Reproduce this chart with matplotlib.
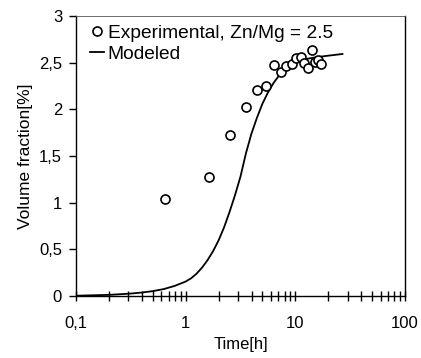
import matplotlib
matplotlib.use("Agg")
import matplotlib.pyplot as plt
from matplotlib.ticker import FixedLocator, LogLocator, NullFormatter, FixedFormatter

plt.rcParams['font.family'] = ['Liberation Sans', 'DejaVu Sans']

exp_time = [0.647, 1.63, 2.56, 3.54, 4.46, 5.42, 6.41, 7.38, 8.24, 9.35,
            10.2, 11.3, 12.0, 13.1, 14.1, 15.0, 16.1, 17.2]
exp_vf = [1.04, 1.28, 1.725, 2.02, 2.21, 2.255, 2.475, 2.395, 2.465, 2.49,
          2.55, 2.565, 2.495, 2.44, 2.635, 2.505, 2.53, 2.485]

mod_time = [0.1, 0.2, 0.316, 0.398, 0.501, 0.631, 0.794, 1.0, 1.122, 1.259,
            1.413, 1.585, 1.778, 1.995, 2.239, 2.512, 2.818, 3.162, 3.548,
            3.981, 4.467, 5.012, 5.623, 6.31, 7.08, 7.94, 8.91, 10.0, 12.6,
            15.8, 20.0, 26.9]
mod_vf = [0.003, 0.012, 0.026, 0.037, 0.052, 0.074, 0.108, 0.155, 0.19, 0.24,
          0.305, 0.385, 0.48, 0.595, 0.735, 0.90, 1.08, 1.28, 1.53, 1.74,
          1.91, 2.06, 2.18, 2.28, 2.36, 2.42, 2.47, 2.505, 2.54,
          2.56, 2.575, 2.593]

xticks = [0.1, 1, 10, 100]
xticklabels = ["0,1", "1", "10", "100"]
yticks = [0, 0.5, 1, 1.5, 2, 2.5, 3]
yticklabels = ["0", "0,5", "1", "1,5", "2", "2,5", "3"]

fig = plt.figure(figsize=(4.21, 3.58), dpi=100)
ax = fig.add_axes([0.1805, 0.1732, 0.7815, 0.7821])

ax.plot(exp_time, exp_vf, linestyle='none', marker='o', markersize=6.5,
        markerfacecolor='white', markeredgecolor='black', markeredgewidth=1.2,
        label='Experimental, Zn/Mg = 2.5', zorder=3)
ax.plot(mod_time, mod_vf, color='black', linewidth=1.3, label='Modeled', zorder=2)

ax.set_xscale('log')
ax.set_xlim(0.1, 100)
ax.set_ylim(0, 3)
ax.xaxis.set_major_locator(FixedLocator(xticks))
ax.xaxis.set_major_formatter(FixedFormatter(xticklabels))
ax.xaxis.set_minor_locator(LogLocator(base=10, subs=range(2, 10)))
ax.xaxis.set_minor_formatter(NullFormatter())
ax.yaxis.set_major_locator(FixedLocator(yticks))
ax.yaxis.set_major_formatter(FixedFormatter(yticklabels))

ax.tick_params(axis='x', which='both', direction='inout', length=7, width=1,
               labelsize=12, pad=11)
ax.tick_params(axis='y', which='major', direction='out', length=5, width=1,
               labelsize=12, pad=5)
for s in ax.spines.values():
    s.set_linewidth(1.0)
ax.spines['top'].set_linewidth(0.6)
ax.spines['top'].set_color('#555555')

ax.set_xlabel('Time[h]', fontsize=12, labelpad=4)
ax.set_ylabel('Volume fraction[%]', fontsize=12.5, labelpad=4)

leg = ax.legend(loc='upper left', bbox_to_anchor=(0.026, 0.991), frameon=False,
                fontsize=13.8, handlelength=0.7, handletextpad=0.2,
                borderaxespad=0.0, labelspacing=0.2, borderpad=0.3)

fig.savefig('out.png', dpi=100)
